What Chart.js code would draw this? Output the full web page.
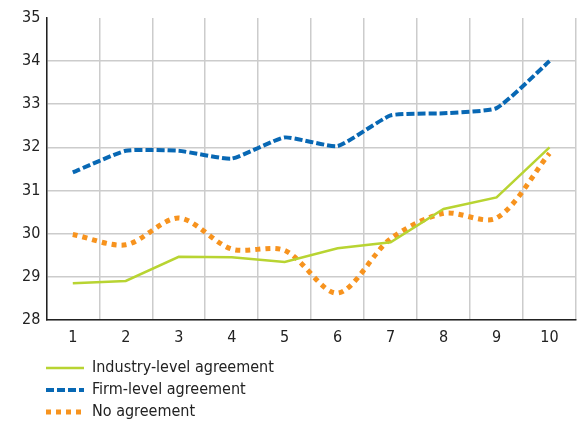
<!DOCTYPE html>
<html>
<head>
<meta charset="utf-8">
<script src="https://cdn.jsdelivr.net/npm/chart.js@4"></script>
<style>
  html, body { margin: 0; padding: 0; background: #fff; }
  #wrap { width: 578px; height: 421px; }
</style>
</head>
<body>
<div id="wrap"><canvas id="mixed-chart" width="578" height="421"></canvas></div>
<script>
const deciles = ['1', '2', '3', '4', '5', '6', '7', '8', '9', '10'];
const industryLevel = [28.85, 28.90, 29.46, 29.45, 29.34, 29.66, 29.80, 30.57, 30.84, 32.00];
const firmLevel = [31.42, 31.92, 31.92, 31.74, 32.23, 32.03, 32.74, 32.79, 32.91, 34.00];
const noAgreement = [29.98, 29.74, 30.36, 29.64, 29.61, 28.62, 29.88, 30.47, 30.36, 31.86];
const seriesNames = ['Industry-level agreement', 'Firm-level agreement', 'No agreement'];

const FONT = "'Liberation Sans Narrow', 'DejaVu Sans Condensed', 'Liberation Sans', sans-serif";

// legend stacked under the plot, drawn by hand so the dashes match
const stackedLegend = {
    id: 'stackedLegend',
    afterDraw(chart) {
        const ctx = chart.ctx;
        const rows = [368, 390, 412];
        ctx.save();
        chart.data.datasets.forEach((ds, i) => {
            const y = rows[i];
            ctx.beginPath();
            ctx.strokeStyle = ds.borderColor;
            ctx.lineWidth = ds.legendWidth;
            ctx.setLineDash(ds.borderDash || []);
            ctx.lineCap = 'butt';
            ctx.moveTo(46, y);
            ctx.lineTo(84, y);
            ctx.stroke();
            ctx.setLineDash([]);
            ctx.fillStyle = '#222';
            ctx.font = '16px ' + FONT;
            ctx.textBaseline = 'middle';
            ctx.fillText(ds.label, 92, y);
        });
        ctx.restore();
    }
};

const ctx = document.getElementById('mixed-chart').getContext('2d');
const myChart = new Chart(ctx, {
    type: 'line',
    data: {
        labels: deciles,
        datasets: [{
            label: seriesNames[0],
            data: industryLevel,
            borderColor: '#b8d432',
            borderWidth: 2.5,
            legendWidth: 2.5,
            pointRadius: 0,
            tension: 0,
            fill: false
        }, {
            label: seriesNames[1],
            data: firmLevel,
            borderColor: '#0868b4',
            borderWidth: 4,
            legendWidth: 4,
            borderDash: [8, 3],
            pointRadius: 0,
            tension: 0.15,
            fill: false
        }, {
            label: seriesNames[2],
            data: noAgreement,
            borderColor: '#f7931e',
            borderWidth: 5,
            legendWidth: 5,
            borderDash: [5, 5],
            pointRadius: 0,
            tension: 0.3,
            fill: false
        }]
    },
    options: {
        responsive: false,
        animation: false,
        layout: { padding: { left: 16, right: 2, top: 18, bottom: 66 } },
        plugins: {
            legend: { display: false },
            tooltip: { enabled: false }
        },
        scales: {
            x: {
                offset: true,
                grid: { offset: true, color: '#cccccc', lineWidth: 1.5, drawTicks: false },
                border: { color: '#222', width: 1.5 },
                ticks: { color: '#222', font: { family: FONT, size: 16 }, padding: 8 }
            },
            y: {
                min: 28,
                max: 35,
                grid: {
                    color: c => c.tick && c.tick.value === 35 ? 'rgba(0,0,0,0)' : '#cccccc',
                    lineWidth: 1.5,
                    drawTicks: false
                },
                border: { color: '#222', width: 1.5 },
                ticks: { stepSize: 1, color: '#222', font: { family: FONT, size: 16 }, padding: 6 }
            }
        }
    },
    plugins: [stackedLegend]
});
</script>
</body>
</html>
